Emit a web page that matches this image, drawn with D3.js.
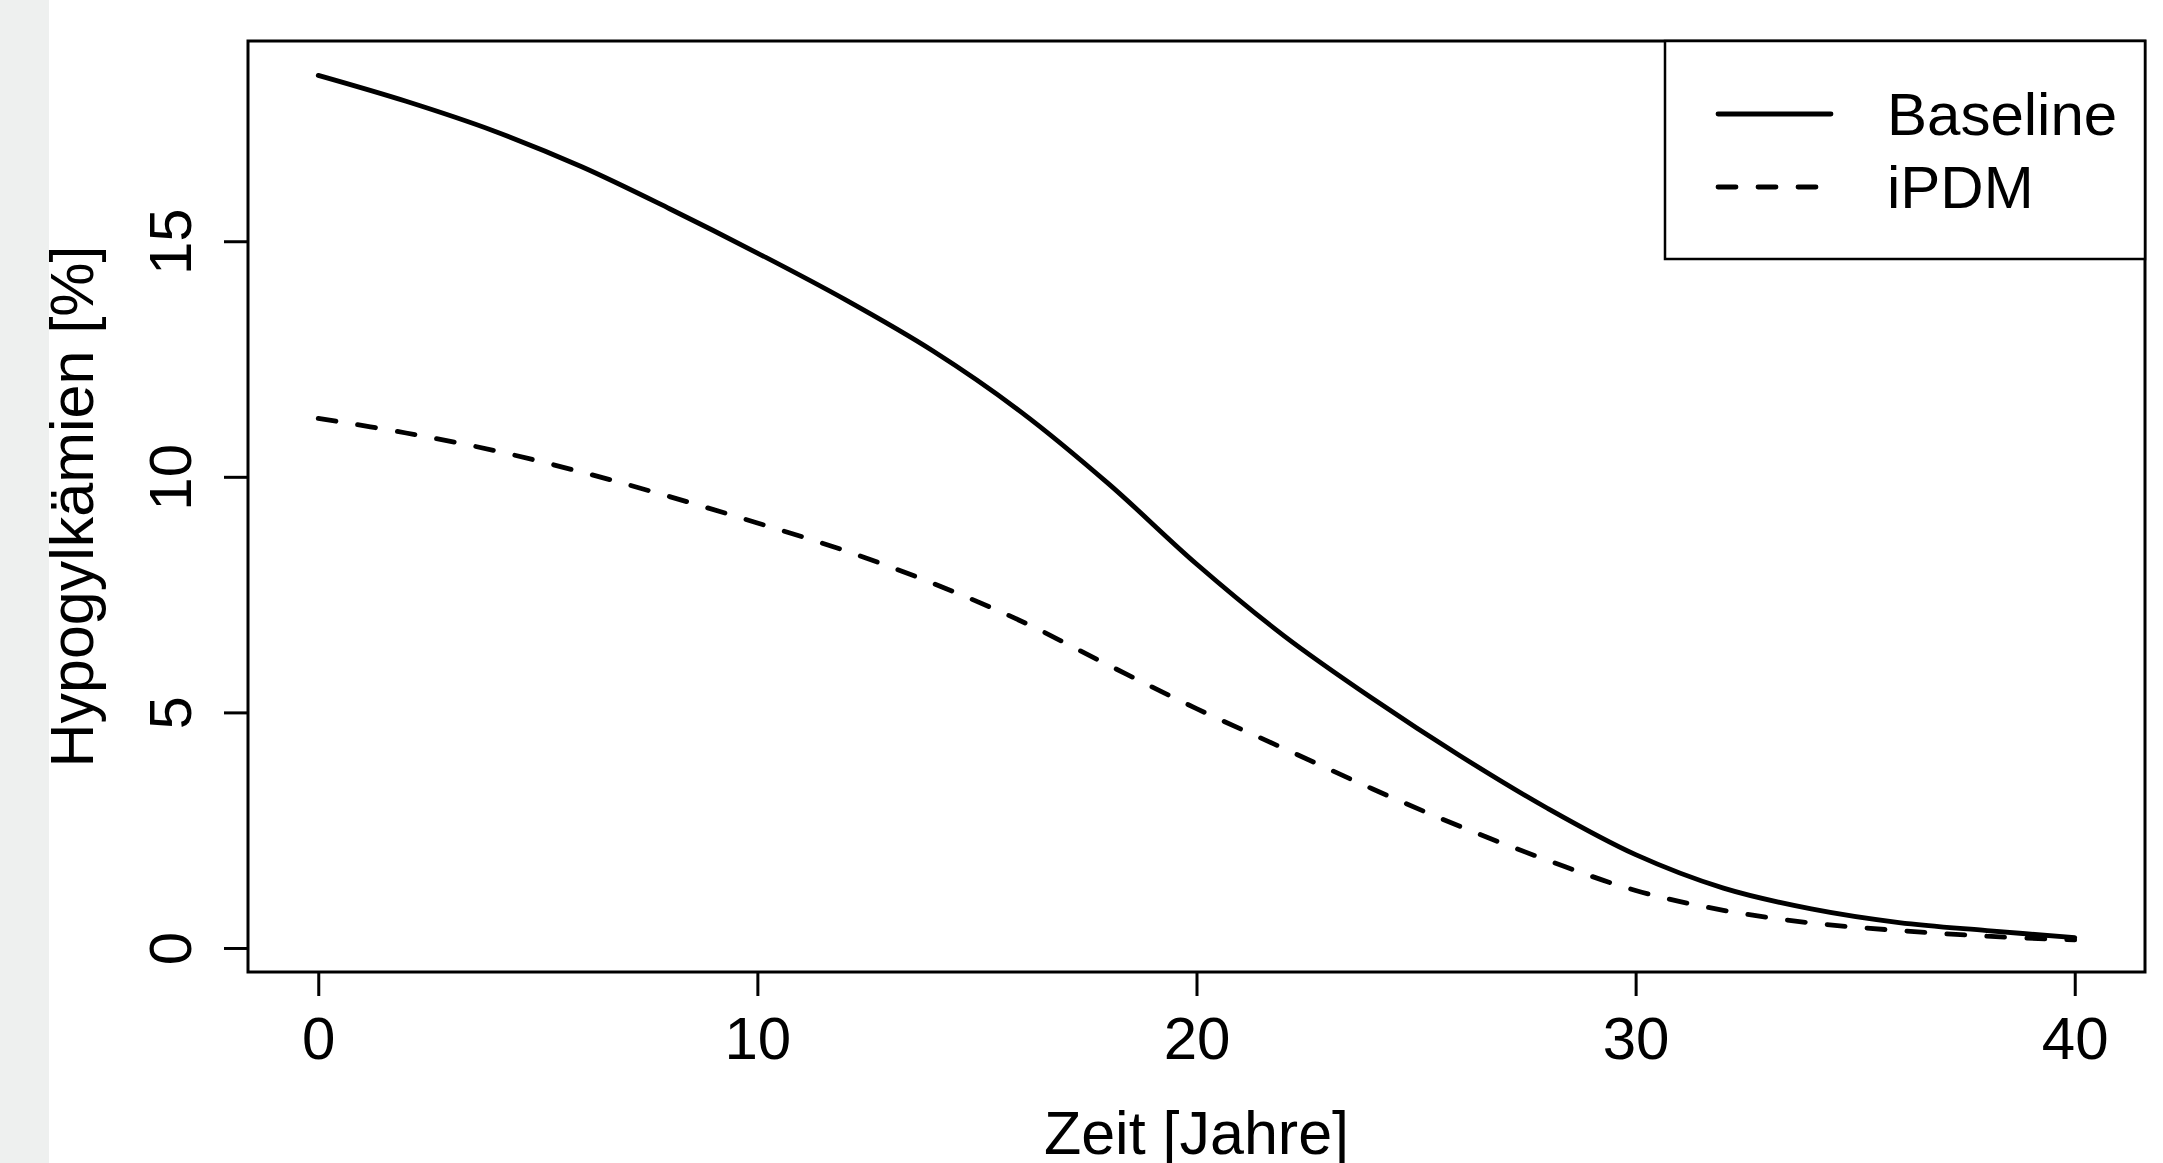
<!DOCTYPE html>
<html>
<head>
<meta charset="utf-8">
<script src="https://cdn.jsdelivr.net/npm/d3@7"></script>
<style>
  html, body { margin: 0; padding: 0; background: #ffffff; }
  svg { display: block; }
  text { font-family: "Liberation Sans", Arial, Helvetica, sans-serif; fill: #000; }
</style>
</head>
<body>
<script>
// ---- data ----
const years = [0, 2, 4, 6, 8, 10, 12, 14, 16, 18, 20, 22, 24, 26, 28, 30, 32, 34, 36, 38, 40];
const baseline = [18.52, 17.97, 17.34, 16.58, 15.69, 14.75, 13.76, 12.67, 11.38, 9.85, 8.15, 6.62, 5.30, 4.08, 2.96, 1.98, 1.27, 0.83, 0.54, 0.37, 0.22];
const ipdm = [11.24, 10.93, 10.56, 10.10, 9.58, 9.02, 8.43, 7.74, 6.94, 6.00, 5.08, 4.23, 3.38, 2.58, 1.86, 1.22, 0.80, 0.53, 0.37, 0.25, 0.17];
const xTicks = [0, 10, 20, 30, 40];
const yTicks = [0, 5, 10, 15];
const seriesNames = ["Baseline", "iPDM"];
const xTitle = "Zeit [Jahre]";
const yTitle = "Hypogylkämien [%]";

// ---- layout ----
const W = 2163, H = 1163;
const plot = { left: 248, right: 2145, top: 41, bottom: 972 };
const TICKFONT = 60, TITLEFONT = 61, LEGFONT = 60;

const svg = d3.select("body").append("svg").attr("width", W).attr("height", H);
svg.append("rect").attr("width", W).attr("height", H).attr("fill", "#ffffff");
svg.append("rect").attr("x", 0).attr("y", 0).attr("width", 49).attr("height", H).attr("fill", "#eef0ef");

const x = d3.scaleLinear().domain([-1.6, 41.6]).range([plot.left, plot.right]);
const y = d3.scaleLinear().domain([-0.51, 19.25]).range([plot.bottom, plot.top]);

// axes
const xAxis = svg.append("g")
  .attr("transform", `translate(0,${plot.bottom})`)
  .call(d3.axisBottom(x).tickValues(xTicks).tickSize(24).tickPadding(20).tickFormat(d3.format("d")));
xAxis.select(".domain").remove();
xAxis.selectAll("line").attr("stroke", "#000").attr("stroke-width", 3);
xAxis.selectAll("text").attr("font-size", TICKFONT).attr("font-family", null).attr("fill", "#000");

const yAxis = svg.append("g")
  .attr("transform", `translate(${plot.left},0)`)
  .call(d3.axisLeft(y).tickValues(yTicks).tickSize(24).tickFormat(d3.format("d")));
yAxis.select(".domain").remove();
yAxis.selectAll("line").attr("stroke", "#000").attr("stroke-width", 3);
yAxis.selectAll("text")
  .attr("font-size", TICKFONT).attr("font-family", null).attr("fill", "#000")
  .attr("x", 0).attr("dy", null).attr("text-anchor", "middle")
  .attr("transform", "translate(-57,0) rotate(-90)");

// curves
const line = d3.line().x((d, i) => x(years[i])).y(d => y(d)).curve(d3.curveCatmullRom.alpha(0.5));
svg.append("path").datum(baseline).attr("d", line)
  .attr("fill", "none").attr("stroke", "#000").attr("stroke-width", 4.8)
  .attr("stroke-linecap", "round").attr("stroke-linejoin", "round");
svg.append("path").datum(ipdm).attr("d", line)
  .attr("fill", "none").attr("stroke", "#000").attr("stroke-width", 4.8)
  .attr("stroke-dasharray", "18,22")
  .attr("stroke-linecap", "round").attr("stroke-linejoin", "round");

// plot box
svg.append("rect")
  .attr("x", plot.left).attr("y", plot.top)
  .attr("width", plot.right - plot.left).attr("height", plot.bottom - plot.top)
  .attr("fill", "none").attr("stroke", "#000").attr("stroke-width", 3);

// axis titles
svg.append("text").attr("x", (plot.left + plot.right) / 2).attr("y", 1154)
  .attr("text-anchor", "middle").attr("font-size", TITLEFONT).text(xTitle);
svg.append("text").attr("transform", `translate(93,${(plot.top + plot.bottom) / 2}) rotate(-90)`)
  .attr("text-anchor", "middle").attr("font-size", TITLEFONT).text(yTitle);

// legend
const lg = svg.append("g");
lg.append("rect").attr("x", 1665).attr("y", plot.top).attr("width", plot.right - 1665).attr("height", 259 - plot.top)
  .attr("fill", "#fff").attr("stroke", "#000").attr("stroke-width", 2.5);
const legendRows = [
  { name: seriesNames[0], dash: null, yy: 114 },
  { name: seriesNames[1], dash: "18,22", yy: 187 }
];
legendRows.forEach(r => {
  lg.append("line").attr("x1", 1718).attr("x2", 1831).attr("y1", r.yy).attr("y2", r.yy)
    .attr("stroke", "#000").attr("stroke-width", 4.8).attr("stroke-linecap", "round")
    .attr("stroke-dasharray", r.dash);
  lg.append("text").attr("x", 1887).attr("y", r.yy + 21).attr("font-size", LEGFONT).text(r.name);
});
</script>
</body>
</html>
